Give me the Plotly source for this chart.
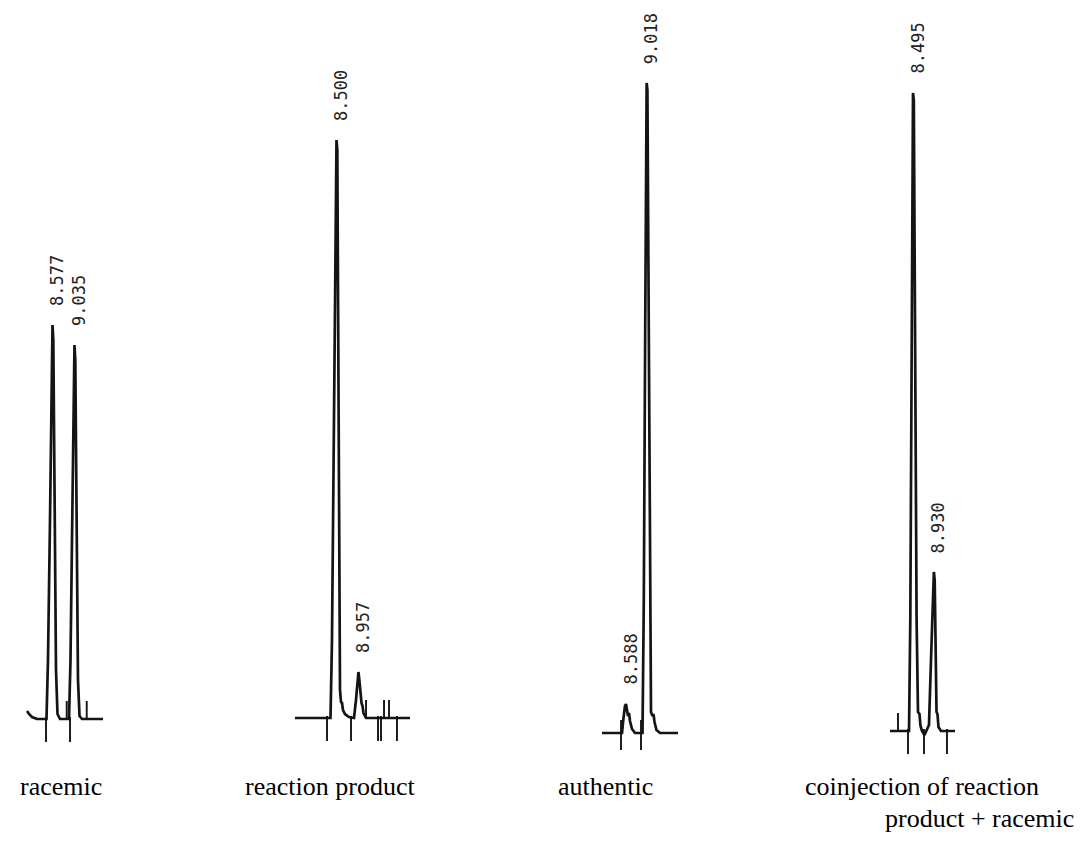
import plotly.graph_objects as go

# ---------------------------------------------------------------------------
# Chiral HPLC runs: retention times printed by the integrator (min)
# ---------------------------------------------------------------------------
racemic_rt = [8.577, 9.035]
product_rt = [8.500, 8.957]
authentic_rt = [8.588, 9.018]
coinj_rt = [8.495, 8.930]

# Detector traces: time (min) and response (counts above baseline)
racemic_time = [8.046, 8.087, 8.150, 8.254, 8.452, 8.483, 8.525, 8.556, 8.577,
                8.594, 8.608, 8.629, 8.650, 8.681, 8.733, 8.921, 8.952, 8.983,
                9.015, 9.035, 9.052, 9.067, 9.087, 9.108, 9.140, 9.192, 9.629]
racemic_signal = [8, 5, 2, 0, 0, 59, 199, 319, 394,
                  379, 269, 159, 49, 5, 0, 0, 59, 179,
                  299, 374, 359, 259, 139, 39, 3, 0, 0]

product_time = [7.635, 8.375, 8.406, 8.4375, 8.469, 8.500, 8.517, 8.531, 8.552,
                8.573, 8.594, 8.615, 8.635, 8.677, 8.760, 8.865, 8.906, 8.9375,
                8.957, 8.976, 9.000, 9.021, 9.042, 9.0625, 9.115, 10.031]
product_signal = [0, 0, 78, 238, 418, 578, 568, 388, 198,
                  28, 16, 15, 8, 4, 1, 0, 18, 36,
                  46, 38, 21, 15, 12, 5, 0, 0]

authentic_time = [8.088, 8.505, 8.536, 8.567, 8.588, 8.609, 8.630, 8.6505, 8.671,
                  8.713, 8.7755, 8.932, 8.959, 8.988, 9.018, 9.034, 9.057, 9.084,
                  9.109, 9.140, 9.161, 9.182, 9.223, 9.296, 9.671]
authentic_signal = [0, 0, 15, 27, 29, 21, 17, 20, 12,
                    4, 0, 0, 133, 403, 650, 643, 403, 133,
                    21, 17, 19, 11, 3, 0, 0]

coinj_time = [8.016, 8.412, 8.439, 8.468, 8.495, 8.512, 8.541, 8.570, 8.599,
              8.630, 8.651, 8.6825, 8.735, 8.776, 8.828, 8.870, 8.930, 8.947,
              8.968, 8.985, 9.005, 9.026, 9.078, 9.370]
coinj_signal = [0, 0, 111, 381, 638, 631, 381, 111, 19,
                17, 5, 0, -4, 0, 6, 71, 159, 151,
                71, 19, 17, 4, 0, 0]

# Integrator event marks (min)
racemic_marks_down = [8.442, 8.942]
racemic_marks_up = [8.873, 9.290]
product_marks_down = [8.302, 8.802, 9.365, 9.427, 9.760]
product_marks_up = [9.115, 9.490, 9.594]
authentic_marks_cross = [8.484, 8.9005]
coinj_marks_down = [8.391, 8.724, 9.203]
coinj_marks_up = [8.1825]

captions = [["racemic"], ["reaction product"], ["authentic"],
            ["coinjection of reaction", "product + racemic"]]

# ---------------------------------------------------------------------------
# Page geometry (pixels) for each strip-chart panel
# ---------------------------------------------------------------------------
W, H = 1086, 856
PX_PER_MIN = 48.0
INK = "#141414"

panels = [
    dict(time=racemic_time, signal=racemic_signal, rt=racemic_rt,
         down=racemic_marks_down, up=racemic_marks_up, cross=[],
         cap=captions[0], span=(0, 170), apex_px=52.5, base_px=719,
         cap_pos=[(18, 786)]),
    dict(time=product_time, signal=product_signal, rt=product_rt,
         down=product_marks_down, up=product_marks_up, cross=[],
         cap=captions[1], span=(230, 470), apex_px=336.5, base_px=718,
         cap_pos=[(243, 786)]),
    dict(time=authentic_time, signal=authentic_signal, rt=authentic_rt,
         down=[], up=[], cross=authentic_marks_cross,
         cap=captions[2], span=(540, 760), apex_px=626.0, base_px=733,
         cap_pos=[(556, 786)]),
    dict(time=coinj_time, signal=coinj_signal, rt=coinj_rt,
         down=coinj_marks_down, up=coinj_marks_up, cross=[],
         cap=captions[3], span=(790, 1086), apex_px=913.0, base_px=731,
         cap_pos=[(803, 786), (883, 818)]),
]

fig = go.Figure()
annotations = []
layout_axes = {}


def mark_segments(times, lo, hi):
    xs, ys = [], []
    for t in times:
        xs += [t, t, None]
        ys += [lo, hi, None]
    return xs, ys


for i, p in enumerate(panels, start=1):
    xa = "x" if i == 1 else f"x{i}"
    ya = "y" if i == 1 else f"y{i}"
    xkey = "xaxis" if i == 1 else f"xaxis{i}"
    ykey = "yaxis" if i == 1 else f"yaxis{i}"

    x0, x1 = p["span"]
    t_ref = p["rt"][0]
    t_lo = t_ref - (p["apex_px"] - x0) / PX_PER_MIN
    t_hi = t_ref + (x1 - p["apex_px"]) / PX_PER_MIN
    layout_axes[xkey] = dict(domain=[x0 / W, x1 / W], range=[t_lo, t_hi],
                             visible=False, anchor=ya, fixedrange=True)
    layout_axes[ykey] = dict(domain=[0, 1], range=[-(H - p["base_px"]), p["base_px"]],
                             visible=False, anchor=xa, fixedrange=True)

    # chromatogram trace
    fig.add_trace(go.Scatter(x=p["time"], y=p["signal"], mode="lines",
                             line=dict(color=INK, width=2.7, shape="linear"),
                             xaxis=xa, yaxis=ya, showlegend=False,
                             hoverinfo="skip"))

    # integrator marks
    mx, my = [], []
    for times, lo, hi in ((p["down"], 2, -23), (p["up"], 0, 18), (p["cross"], 13, -17)):
        sx, sy = mark_segments(times, lo, hi)
        mx += sx
        my += sy
    if mx:
        fig.add_trace(go.Scatter(x=mx, y=my, mode="lines",
                                 line=dict(color=INK, width=1.9),
                                 xaxis=xa, yaxis=ya, showlegend=False,
                                 hoverinfo="skip"))

    # retention-time labels printed above each apex
    for rt in p["rt"]:
        apex = p["signal"][p["time"].index(rt)]
        annotations.append(dict(
            x=rt, y=apex, xref=xa, yref=ya, text=f"{rt:.3f}",
            textangle=-90, showarrow=False, xanchor="center", yanchor="bottom",
            xshift=4, yshift=17,
            font=dict(family="DejaVu Sans Mono", size=17, color="#222222")))

    # caption under the panel
    for line, (cx, cy) in zip(p["cap"], p["cap_pos"]):
        annotations.append(dict(
            x=cx / W, y=1 - cy / H, xref="paper", yref="paper", text=line,
            showarrow=False, xanchor="left", yanchor="middle",
            font=dict(family="Liberation Serif", size=26, color="#000000")))

fig.update_layout(
    width=W, height=H,
    margin=dict(l=0, r=0, t=0, b=0),
    paper_bgcolor="white", plot_bgcolor="white",
    annotations=annotations,
    **layout_axes,
)

fig.write_html("out.html")
